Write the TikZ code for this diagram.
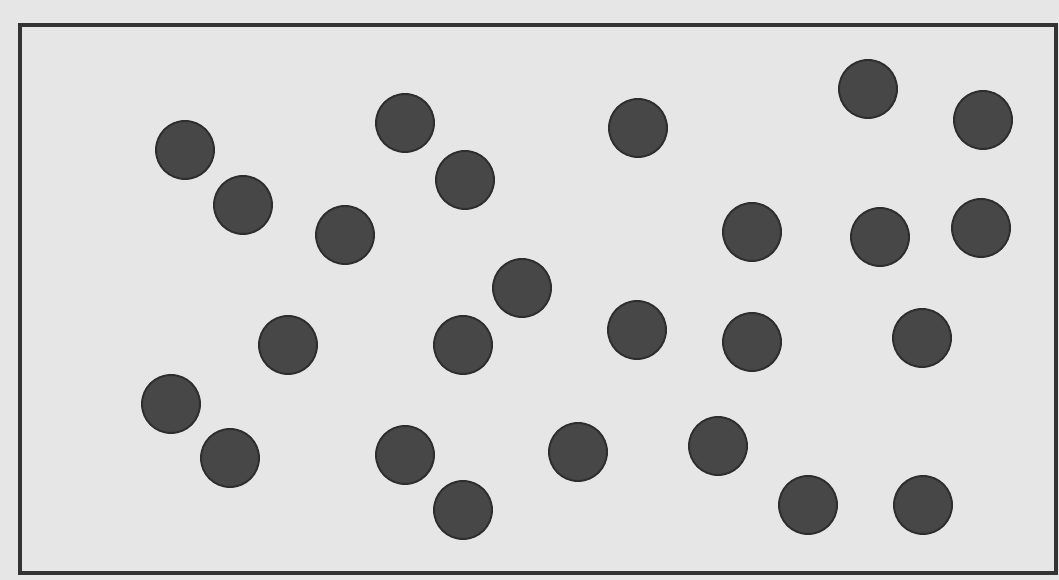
\documentclass[tikz,border=0pt]{standalone}
\usepackage{tikz}
\definecolor{MyPaper}{HTML}{E6E6E6}
\definecolor{MyBall}{HTML}{474747}
\definecolor{MyEdge}{HTML}{2E2E2E}
\begin{document}
\begin{tikzpicture}[x=0.02cm, y=-0.02cm, every path/.style={line width=1.1pt}]
			\fill[MyPaper] (0,0) rectangle (1059,580);
			\useasboundingbox (0,0) rectangle (1059,580);
			
			\draw[black!80, line width=2pt] (20,25) rectangle (1056,573);
			
			% molecules
			\foreach \x/\y in {185/150, 243/205, 405/123, 465/180, 345/235, 638/128, 868/89, 983/120,
				752/232, 880/237, 981/228, 522/288, 288/345, 463/345, 637/330, 752/342, 922/338,
				171/404, 230/458, 405/455, 578/452, 718/446, 463/510, 808/505, 923/505}
			\draw[MyEdge, fill=MyBall] (\x,\y) circle (29);
		\end{tikzpicture}
\end{document}
